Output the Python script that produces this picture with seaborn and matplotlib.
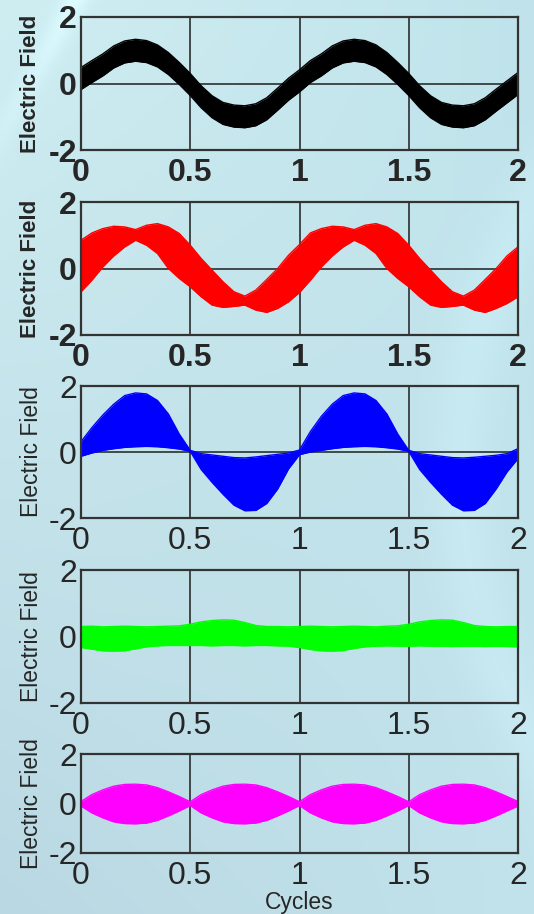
import numpy as np
import pandas as pd
import matplotlib
matplotlib.use("Agg")
import matplotlib.pyplot as plt
import seaborn as sns

# ---------------- data ----------------
cycles = [0.00, 0.05, 0.10, 0.15, 0.20, 0.25, 0.30, 0.35, 0.40, 0.45,
          0.50, 0.55, 0.60, 0.65, 0.70, 0.75, 0.80, 0.85, 0.90, 0.95,
          1.00, 1.05, 1.10, 1.15, 1.20, 1.25, 1.30, 1.35, 1.40, 1.45,
          1.50, 1.55, 1.60, 1.65, 1.70, 1.75, 1.80, 1.85, 1.90, 1.95, 2.00]

black_upper = [0.48, 0.69, 0.89, 1.13, 1.28, 1.33, 1.29, 1.16, 0.93, 0.63,
               0.30, -0.07, -0.37, -0.57, -0.65, -0.67, -0.61, -0.43, -0.14, 0.16,
               0.41, 0.69, 0.89, 1.13, 1.28, 1.33, 1.29, 1.16, 0.93, 0.63,
               0.30, -0.07, -0.37, -0.57, -0.65, -0.67, -0.61, -0.43, -0.17, 0.08, 0.33]
black_lower = [-0.18, 0.03, 0.23, 0.47, 0.62, 0.67, 0.63, 0.50, 0.27, -0.03,
               -0.36, -0.73, -1.03, -1.23, -1.31, -1.33, -1.27, -1.09, -0.80, -0.50,
               -0.25, 0.03, 0.23, 0.47, 0.62, 0.67, 0.63, 0.50, 0.27, -0.03,
               -0.36, -0.73, -1.03, -1.23, -1.31, -1.33, -1.27, -1.09, -0.83, -0.58, -0.33]

red_upper = [0.85, 1.07, 1.20, 1.27, 1.25, 1.17, 1.30, 1.35, 1.25, 1.05,
             0.70, 0.30, -0.05, -0.40, -0.70, -0.83, -0.65, -0.33, 0.00, 0.40,
             0.72, 1.07, 1.20, 1.27, 1.25, 1.17, 1.30, 1.35, 1.25, 1.05,
             0.70, 0.30, -0.05, -0.40, -0.70, -0.83, -0.65, -0.33, 0.00, 0.38, 0.65]
red_lower = [-0.70, -0.35, 0.05, 0.38, 0.65, 0.85, 0.70, 0.45, 0.00, -0.30,
             -0.55, -0.85, -1.10, -1.17, -1.14, -1.10, -1.25, -1.32, -1.20, -1.00,
             -0.72, -0.35, 0.05, 0.38, 0.65, 0.85, 0.70, 0.45, 0.00, -0.30,
             -0.55, -0.85, -1.10, -1.17, -1.14, -1.10, -1.25, -1.32, -1.20, -1.05, -0.85]

blue_upper = [0.31, 0.74, 1.12, 1.45, 1.71, 1.79, 1.76, 1.56, 1.15, 0.54,
              0.05, -0.05, -0.09, -0.13, -0.17, -0.18, -0.15, -0.11, -0.07, -0.03,
              0.06, 0.62, 1.08, 1.45, 1.71, 1.79, 1.76, 1.56, 1.15, 0.54,
              0.05, -0.05, -0.09, -0.13, -0.17, -0.18, -0.16, -0.13, -0.10, -0.05, 0.10]
blue_lower = [-0.13, -0.03, 0.05, 0.10, 0.14, 0.16, 0.17, 0.16, 0.13, 0.09,
              0.02, -0.53, -0.92, -1.28, -1.61, -1.78, -1.77, -1.56, -1.12, -0.51,
              -0.08, 0.00, 0.05, 0.10, 0.14, 0.16, 0.17, 0.16, 0.13, 0.09,
              0.02, -0.53, -0.92, -1.28, -1.61, -1.78, -1.77, -1.56, -1.12, -0.60, -0.20]

green_upper = [0.30, 0.31, 0.29, 0.30, 0.31, 0.30, 0.29, 0.30, 0.31, 0.32,
               0.37, 0.44, 0.48, 0.50, 0.49, 0.42, 0.33, 0.30, 0.30, 0.29,
               0.30, 0.31, 0.30, 0.29, 0.30, 0.31, 0.30, 0.29, 0.31, 0.32,
               0.37, 0.44, 0.48, 0.50, 0.49, 0.42, 0.33, 0.30, 0.29, 0.30, 0.30]
green_lower = [-0.33, -0.38, -0.43, -0.44, -0.43, -0.37, -0.31, -0.28, -0.27, -0.27,
               -0.27, -0.27, -0.28, -0.27, -0.27, -0.28, -0.27, -0.27, -0.28, -0.29,
               -0.33, -0.39, -0.43, -0.44, -0.42, -0.36, -0.31, -0.29,
               -0.28, -0.29, -0.29, -0.28, -0.29, -0.29, -0.30, -0.29, -0.29, -0.30, -0.29, -0.30, -0.31]

magenta_upper = [0.08, 0.36, 0.55, 0.70, 0.77, 0.78, 0.75, 0.64, 0.47, 0.28,
                 0.07, 0.36, 0.55, 0.70, 0.77, 0.78, 0.75, 0.64, 0.47, 0.28,
                 0.07, 0.36, 0.55, 0.70, 0.77, 0.78, 0.75, 0.64, 0.47, 0.28,
                 0.07, 0.36, 0.55, 0.70, 0.77, 0.78, 0.75, 0.64, 0.47, 0.28, 0.08]
magenta_lower = [-0.10, -0.38, -0.58, -0.74, -0.81, -0.82, -0.79, -0.68, -0.50, -0.30,
                 -0.08, -0.38, -0.58, -0.74, -0.81, -0.82, -0.79, -0.68, -0.50, -0.30,
                 -0.08, -0.38, -0.58, -0.74, -0.81, -0.82, -0.79, -0.68, -0.50, -0.30,
                 -0.08, -0.38, -0.58, -0.74, -0.81, -0.82, -0.79, -0.68, -0.50, -0.30, -0.10]

x_ticks = [0, 0.5, 1, 1.5, 2]
x_tick_labels = ["0", "0.5", "1", "1.5", "2"]
y_ticks = [-2, 0, 2]
y_tick_labels = ["-2", "0", "2"]
y_label = "Electric Field"
x_label = "Cycles"

# ---------------- style ----------------
sns.set_theme(style="white")
plt.rcParams['font.family'] = ['Liberation Sans', 'DejaVu Sans']

W, H = 534, 914
fig = plt.figure(figsize=(W / 100, H / 100), dpi=100)

# background (slide-like light cyan gradient)
yy, xx = np.mgrid[0:H, 0:W].astype(float)
u = xx / W
v = yy / H
tl = np.array([207, 238, 242]) / 255
tr = np.array([192, 227, 235]) / 255
bl = np.array([186, 216, 227]) / 255
br = np.array([194, 227, 235]) / 255
img = ((1 - u)[..., None] * (1 - v)[..., None] * tl + u[..., None] * (1 - v)[..., None] * tr
       + (1 - u)[..., None] * v[..., None] * bl + u[..., None] * v[..., None] * br)
d1 = np.abs(xx - 75 + yy * 0.55)
img += (0.06 * np.exp(-(d1 / 14) ** 2) * np.exp(-yy / 120))[..., None]
dr = np.abs(np.hypot(xx - 1000, yy - 470) - 540)
img += (0.025 * np.exp(-(dr / 30) ** 2))[..., None]
img = np.clip(img, 0, 1)
bg = fig.add_axes([0, 0, 1, 1], zorder=-10)
bg.imshow(img, aspect='auto', extent=[0, 1, 0, 1], interpolation='bilinear')
bg.set_axis_off()

panels = [
    ("#000000", black_upper, black_lower, 17, 150, "bold"),
    ("#ff0000", red_upper, red_lower, 202, 335, "bold"),
    ("#0000ff", blue_upper, blue_lower, 386, 518, "normal"),
    ("#00ff00", green_upper, green_lower, 570, 703, "normal"),
    ("#ff00ff", magenta_upper, magenta_lower, 754, 853, "normal"),
]
text_color = "#262626"
left_px, right_px = 81, 518

for i, (col, up, lo, top, bot, weight) in enumerate(panels):
    ax = fig.add_axes([left_px / W, 1 - bot / H, (right_px - left_px) / W, (bot - top) / H])
    ax.set_facecolor('none')
    df = pd.DataFrame({"Cycles": cycles, "upper": up, "lower": lo})
    ax.fill_between(df["Cycles"], df["lower"], df["upper"], color=col, lw=0, zorder=3)
    sns.lineplot(data=df, x="Cycles", y="upper", color=col, lw=1.0, ax=ax, zorder=3)
    sns.lineplot(data=df, x="Cycles", y="lower", color=col, lw=1.0, ax=ax, zorder=3)
    ax.set_xlim(0, 2)
    ax.set_ylim(-2, 2)
    ax.set_xticks(x_ticks)
    ax.set_xticklabels(x_tick_labels)
    ax.set_yticks(y_ticks)
    ax.set_yticklabels(y_tick_labels)
    ax.grid(True, color="#1e1e1e", lw=1.1)
    ax.set_axisbelow(True)
    for s in ax.spines.values():
        s.set_visible(True)
        s.set_color("#333333")
        s.set_linewidth(1.6)
        s.set_zorder(6)
    ax.tick_params(axis='both', length=0, labelsize=23, labelcolor=text_color)
    ax.tick_params(axis='x', pad=6)
    ax.tick_params(axis='y', pad=3)
    for lbl in ax.get_xticklabels() + ax.get_yticklabels():
        lbl.set_fontweight(weight)
    ax.set_ylabel(y_label, fontsize=16 if weight == "bold" else 16.5, fontweight=weight,
                  color=text_color, va='center')
    ax.yaxis.set_label_coords((31 - left_px) / (right_px - left_px), 0.5)
    if i < 4:
        ax.set_xlabel("")
    else:
        ax.set_xlabel(x_label, fontsize=16.5, color=text_color, va='center')
        ax.xaxis.set_label_coords(0.5, -(903 - bot) / (bot - top))

fig.savefig("out.png", dpi=100)
